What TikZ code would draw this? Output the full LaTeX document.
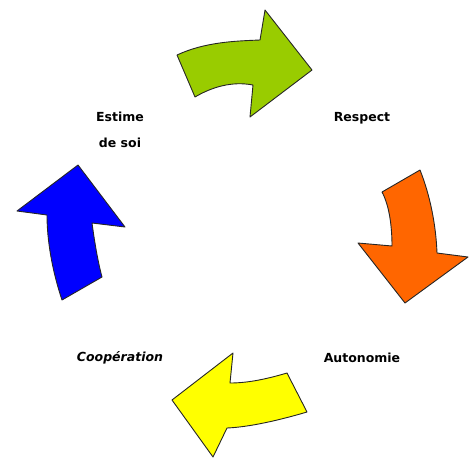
\documentclass[tikz,border=0pt]{standalone}
\usepackage{fontspec}
\setmainfont{DejaVu Sans}
\usepackage{tikz}
\definecolor{arrowgreen}{RGB}{153,204,0}
\definecolor{arroworange}{RGB}{255,102,0}
\definecolor{arrowyellow}{RGB}{255,255,0}
\definecolor{arrowblue}{RGB}{0,0,255}
\tikzset{
	cyclearrow/.style={draw=black!85, line width=0.9pt, line join=round},
	steplabel/.style={font=\bfseries\fontsize{12.5}{26}\selectfont, align=center}
}
\begin{document}
\begin{tikzpicture}[x=1pt, y=-1pt]

\useasboundingbox (0, 0) rectangle (472, 459);

% top arrow
\filldraw[cyclearrow, fill=arrowgreen] (177, 55) .. controls (205, 42) and (235, 41) .. (260, 40)
	-- (265, 10) -- (312, 70) -- (250, 117) -- (253, 85)
	.. controls (232, 81) and (212, 87) .. (195, 97) -- cycle;

% right arrow
\filldraw[cyclearrow, fill=arroworange] (382, 192) -- (420, 170)
	.. controls (430, 195) and (436, 225) .. (437, 253)
	-- (468, 257) -- (405, 303) -- (358, 243) -- (392, 246)
	.. controls (392, 225) and (389, 205) .. (382, 192);

% bottom arrow
\filldraw[cyclearrow, fill=arrowyellow] (172, 400) -- (233, 353) -- (230, 383)
	.. controls (250, 383) and (270, 378) .. (287, 373) -- (307, 412)
	.. controls (280, 420) and (250, 427) .. (227, 428) -- (213, 457) -- cycle;

% left arrow
\filldraw[cyclearrow, fill=arrowblue] (78, 165) -- (125, 227) -- (92, 223)
	.. controls (95, 245) and (98, 262) .. (102, 277) -- (62, 300)
	.. controls (52, 270) and (47, 240) .. (47, 215) -- (17, 211) -- cycle;

\node[steplabel] (estime) at (120, 130) {Estime\\de soi};
\node[steplabel] (respect) at (362, 118) {Respect};
\node[steplabel] (autonomie) at (362, 358) {Autonomie};
\node[steplabel, font=\bfseries\itshape\fontsize{12.5}{26}\selectfont] (cooperation) at (120, 358) {Coopération};

\end{tikzpicture}
\end{document}
